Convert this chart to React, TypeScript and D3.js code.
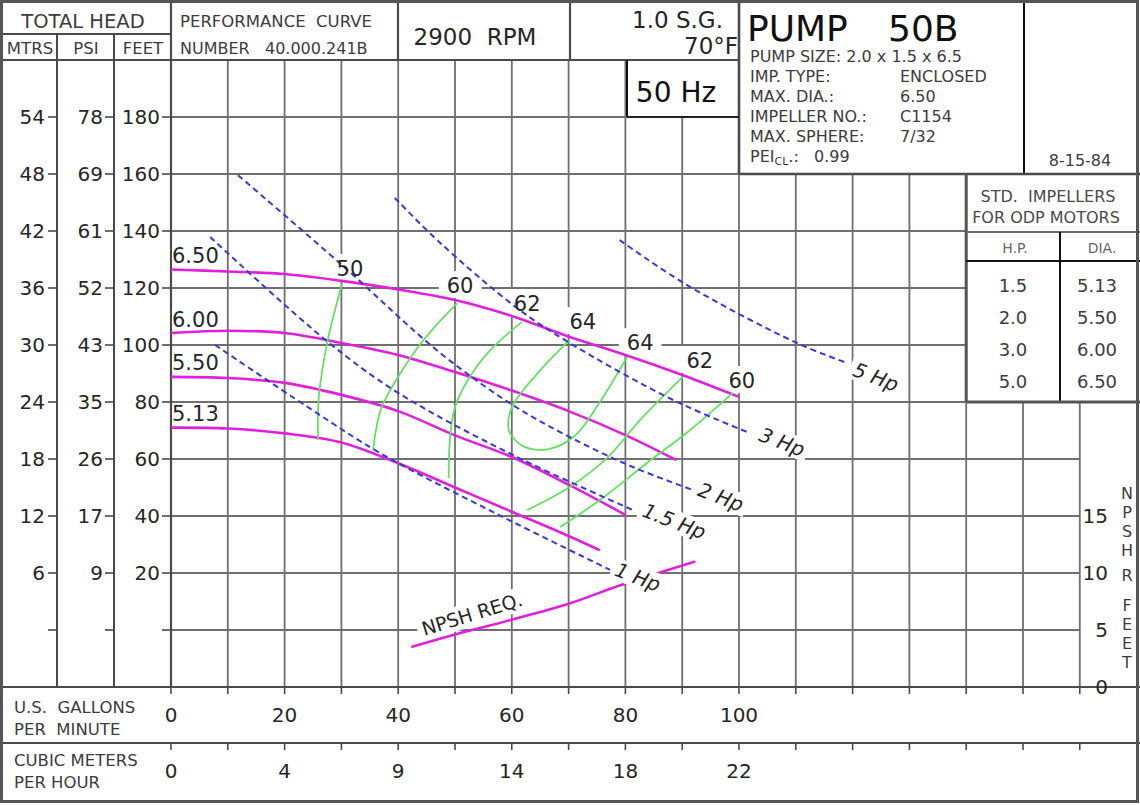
import React from 'react';
import * as d3 from 'd3';

const FONT = "'DejaVu Sans', Verdana, Arial, sans-serif";

// ---------- axis / tick data ----------
const feetTicks = [180, 160, 140, 120, 100, 80, 60, 40, 20, 0];
const mtrsLabels = ['54', '48', '42', '36', '30', '24', '18', '12', '6', ''];
const psiLabels = ['78', '69', '61', '52', '43', '35', '26', '17', '9', ''];
const feetLabels = ['180', '160', '140', '120', '100', '80', '60', '40', '20', ''];
const gpmTicks = [0, 20, 40, 60, 80, 100];
const cmhLabels = ['0', '4', '9', '14', '18', '22'];
const npshTicks = [0, 5, 10, 15];

// ---------- impeller head curves [gpm, feet] ----------
const dia650 = [[0, 126.5], [10, 125.8], [20, 124.9], [30, 122.5], [40, 119.5], [50, 115.8], [60, 110.2], [70, 103], [80, 96.5], [90, 89.5], [100, 81.8]];
const dia600 = [[0, 104.2], [10, 105], [20, 104.2], [30, 100.7], [40, 96.5], [50, 90.5], [60, 84], [70, 76.8], [80, 68.4], [89, 59.6]];
const dia550 = [[0, 88.8], [10, 88.4], [20, 86.7], [30, 82.5], [40, 76.8], [50, 68.3], [60, 60.7], [70, 51], [80, 40.4]];
const dia513 = [[0, 71], [10, 70.7], [20, 69], [30, 65.8], [40, 58.5], [50, 50], [60, 41.5], [70, 33], [75.5, 28]];
const impellerCurves = [dia650, dia600, dia550, dia513];
const impellerNames = ['6.50', '6.00', '5.50', '5.13'];

// ---------- efficiency contours [gpm, feet] ----------
const eff50 = [[30.1, 121.4], [27.6, 101.8], [26.2, 85.3], [25.9, 78.2], [25.9, 66.7]];
const eff60a = [[50.4, 114.7], [43.5, 99.3], [37.1, 78.2], [36.1, 70.2], [35.6, 63.2]];
const eff62a = [[61.8, 108.1], [56.2, 98.2], [52.6, 88.8], [50, 78.2], [49.1, 66.7], [48.9, 53.3]];
const eff64 = [[70.2, 101.8], [64.5, 90], [60, 78], [59.5, 70], [62, 64.5], [66.5, 63.5], [71, 68], [75.5, 80], [80.3, 95.8]];
const eff62b = [[90.1, 88.8], [82.6, 73.7], [76.8, 60.4], [70.2, 50.2], [62.7, 42.1]];
const eff60b = [[98.9, 83.2], [91.4, 70.2], [83.8, 58.6], [75.5, 45.6], [68.5, 36.1]];
const effCurves = [eff50, eff60a, eff62a, eff64, eff62b, eff60b];
const effLabels = ['50', '60', '62', '64', '64', '62', '60'];
const effLabelAt = [[31.5, 127], [50.9, 121], [62.7, 114.7], [72.5, 108.4], [82.6, 101], [93.1, 94.7], [100.5, 87.7]];

// ---------- horsepower lines [gpm, feet] ----------
const hp1 = [[7.75, 100], [24.1, 78.2], [36.8, 62.1], [57, 41.1], [77.3, 21.1]];
const hp15 = [[6.9, 137.9], [27.6, 101.1], [40, 83.2], [60.2, 61.4], [81.3, 42.1]];
const hp2 = [[11.8, 159.6], [29.9, 128.4], [47.4, 97.2], [60.2, 78.9], [70.2, 67.7], [81.3, 57.2], [91.9, 49.1]];
const hp3 = [[39.4, 151.6], [47.4, 135.8], [60.9, 113], [70.2, 100.7], [88.4, 80.7], [101.9, 69.1]];
const hp5 = [[79, 136.8], [90.8, 121.1], [110.2, 100.7], [119, 93.7]];
const hpCurves = [hp1, hp15, hp2, hp3, hp5];
const hpNames = ['1 Hp', '1.5 Hp', '2 Hp', '3 Hp', '5 Hp'];
const hpLabelAt = [[82.2, 18.6], [88.6, 38.2], [96.8, 46.7], [107.6, 66], [124.1, 88.8]];

// ---------- NPSH required [gpm, npsh feet] ----------
const npshReq = [[42.3, 3.5], [50, 4.6], [60, 5.9], [70, 7.3], [79, 8.9], [92.3, 11.0]];

// ---------- header / table text ----------
const infoKeys = ['IMP. TYPE:', 'MAX. DIA.:', 'IMPELLER NO.:', 'MAX. SPHERE:'];
const infoVals = ['ENCLOSED', '6.50', 'C1154', '7/32'];
const stdHp = ['1.5', '2.0', '3.0', '5.0'];
const stdDia = ['5.13', '5.50', '6.00', '6.50'];
const npshrLetters = ['N', 'P', 'S', 'H', 'R', 'F', 'E', 'E', 'T'];

const CW: Record<string, number> = {
  '0': .636, '1': .636, '2': .636, '3': .636, '4': .636, '5': .636, '6': .636, '7': .636, '8': .636, '9': .636,
  '.': .318, ' ': .318, H: .752, p: .635, N: .748, P: .603, S: .635, R: .695, E: .632, Q: .787,
};
const tw = (s: string, size: number) => {
  let w = 0;
  for (const c of s) w += CW[c] ?? 0.65;
  return w * size;
};

export default function App() {
  const x = d3.scaleLinear().domain([0, 170]).range([171, 1136.6]);
  const y = d3.scaleLinear().domain([-20, 200]).range([687, 60]);
  const yN = d3.scaleLinear().domain([0, 5]).range([687, 630]);
  const gen = d3.line<number[]>().x(d => x(d[0])).y(d => y(d[1])).curve(d3.curveCatmullRom.alpha(0.5));
  const genN = d3.line<number[]>().x(d => x(d[0])).y(d => yN(d[1])).curve(d3.curveCatmullRom.alpha(0.5));

  const GRID = '#6f6f6f';
  const LINE = '#4a4a4a';
  const TXT = '#262626';
  const HDR = '#3c3c3c';
  const MAG = '#e020dc';
  const BLUE = '#3a3ad2';
  const GREEN = '#64e064';

  const gridV = d3.range(10, 170, 10).map(g => {
    let top = 200;
    if (g === 90 || g === 100) top = 180;
    else if (g > 100 && g <= 140) top = 160;
    else if (g > 140) top = 80;
    return { g, top };
  });
  const gridH = feetTicks.map(f => {
    let end = 160;
    if (f === 180) end = 100;
    else if (f === 160) end = 170;
    else if (f >= 80) end = 140;
    return { f, end };
  });

  const EFF_SIZE = 21;
  const HP_SIZE = 20;
  const HP_ROT = 21;

  const effRects = effLabels.map((t, i) => {
    const w = tw(t, EFF_SIZE);
    return { t, cx: x(effLabelAt[i][0]), cy: y(effLabelAt[i][1]), w };
  });

  const impLabels = impellerNames.map((t, i) => ({ t, x0: x(0) + 1, cy: y(impellerCurves[i][0][1]) - 14, w: tw(t, EFF_SIZE) }));

  const hpL = hpNames.map((t, i) => ({ t, cx: x(hpLabelAt[i][0]), cy: y(hpLabelAt[i][1]), w: tw(t, HP_SIZE) }));

  const npshLbl = { cx: x(53), cy: yN(6.4), t: 'NPSH REQ.' };

  return (
    <svg width={1140} height={805} style={{ position: 'absolute', left: 0, top: 0, background: '#fff' }} fontFamily={FONT}>
      <rect x={0} y={0} width={1140} height={805} fill="#fff" />

      {/* grid */}
      {gridV.map(d => (
        <line key={'v' + d.g} x1={x(d.g)} x2={x(d.g)} y1={y(d.top)} y2={y(-20)} stroke={GRID} strokeWidth={1.8} />
      ))}
      {gridH.map(d => (
        <line key={'h' + d.f} x1={x(0)} x2={x(d.end)} y1={y(d.f)} y2={y(d.f)} stroke={GRID} strokeWidth={1.8} />
      ))}

      {/* frame / header lines */}
      <line x1={0} x2={x(0)} y1={34} y2={34} stroke={LINE} strokeWidth={2} />
      <line x1={0} x2={x(100)} y1={y(200)} y2={y(200)} stroke={LINE} strokeWidth={2.2} />
      <line x1={57} x2={57} y1={34} y2={y(-20)} stroke={LINE} strokeWidth={2} />
      <line x1={114} x2={114} y1={34} y2={y(-20)} stroke={LINE} strokeWidth={2} />
      <line x1={x(0)} x2={x(0)} y1={0} y2={y(-20)} stroke={LINE} strokeWidth={2.2} />
      <line x1={398} x2={398} y1={0} y2={y(200)} stroke={LINE} strokeWidth={2.2} />
      <line x1={570} x2={570} y1={0} y2={y(200)} stroke={LINE} strokeWidth={2.2} />
      <line x1={x(100)} x2={x(100)} y1={0} y2={y(160)} stroke={LINE} strokeWidth={2.6} />
      <line x1={1024} x2={1024} y1={0} y2={y(160)} stroke="#111" strokeWidth={2} />
      <line x1={x(100)} x2={1140} y1={y(160)} y2={y(160)} stroke={LINE} strokeWidth={2.4} />
      {/* 50 Hz box */}
      <line x1={627} x2={627} y1={y(200)} y2={y(180)} stroke="#111" strokeWidth={2} />
      <line x1={627} x2={x(100)} y1={y(180)} y2={y(180)} stroke="#222" strokeWidth={2} />

      {/* table */}
      <line x1={x(140)} x2={x(140)} y1={y(160)} y2={y(80)} stroke="#555" strokeWidth={3} />
      <line x1={x(140)} x2={1140} y1={232} y2={232} stroke="#666" strokeWidth={2.2} />
      <line x1={x(140)} x2={1140} y1={261} y2={261} stroke="#111" strokeWidth={2} />
      <line x1={1060} x2={1060} y1={232} y2={y(80)} stroke="#111" strokeWidth={2} />
      <line x1={x(140)} x2={1140} y1={y(80)} y2={y(80)} stroke="#555" strokeWidth={3} />

      {/* bottom rows */}
      <line x1={0} x2={1140} y1={y(-20)} y2={y(-20)} stroke={LINE} strokeWidth={2.2} />
      <line x1={0} x2={1140} y1={743} y2={743} stroke={LINE} strokeWidth={2.2} />
      {d3.range(0, 170, 10).map(g => (
        <g key={'bt' + g}>
          <line x1={x(g)} x2={x(g)} y1={y(-20)} y2={y(-20) + 7} stroke={LINE} strokeWidth={1.6} />
          <line x1={x(g)} x2={x(g)} y1={743} y2={750} stroke={LINE} strokeWidth={1.6} />
        </g>
      ))}

      {/* left axis ticks and labels */}
      {feetTicks.map((f, i) => (
        <g key={'lt' + f}>
          <line x1={48} x2={57} y1={y(f)} y2={y(f)} stroke={LINE} strokeWidth={1.6} />
          <line x1={105} x2={114} y1={y(f)} y2={y(f)} stroke={LINE} strokeWidth={1.6} />
          <line x1={162} x2={x(0)} y1={y(f)} y2={y(f)} stroke={LINE} strokeWidth={1.6} />
          <text x={45} y={y(f)} dy="0.36em" textAnchor="end" fontSize={20} fill={TXT}>{mtrsLabels[i]}</text>
          <text x={103} y={y(f)} dy="0.36em" textAnchor="end" fontSize={20} fill={TXT}>{psiLabels[i]}</text>
          <text x={160} y={y(f)} dy="0.36em" textAnchor="end" fontSize={20} fill={TXT}>{feetLabels[i]}</text>
        </g>
      ))}

      {/* label backgrounds (under curves) */}
      {effRects.map((d, i) => (
        <rect key={'er' + i} x={d.cx - d.w / 2 - 8} y={d.cy - 14} width={d.w + 16} height={27} fill="#fff" />
      ))}
      {impLabels.map((d, i) => (
        <rect key={'ir' + i} x={d.x0} y={d.cy - 10} width={d.w + 4} height={20} fill="#fff" />
      ))}
      <g transform={`translate(${npshLbl.cx},${npshLbl.cy}) rotate(-17)`}>
        <rect x={-tw(npshLbl.t, 19) / 2 - 5} y={-12} width={tw(npshLbl.t, 19) + 10} height={24} fill="#fff" />
      </g>

      {/* impeller curves */}
      {impellerCurves.map((c, i) => (
        <path key={'imp' + i} d={gen(c) || ''} fill="none" stroke={MAG} strokeWidth={2.6} />
      ))}
      {/* efficiency */}
      {effCurves.map((c, i) => (
        <path key={'eff' + i} d={gen(c) || ''} fill="none" stroke={GREEN} strokeWidth={1.8} />
      ))}
      {/* hp lines */}
      {hpCurves.map((c, i) => (
        <path key={'hp' + i} d={gen(c) || ''} fill="none" stroke={BLUE} strokeWidth={2} strokeDasharray="6 4" />
      ))}
      {/* NPSH req */}
      <path d={genN(npshReq) || ''} fill="none" stroke={MAG} strokeWidth={2.6} />

      {/* label texts */}
      {effRects.map((d, i) => (
        <text key={'et' + i} x={d.cx} y={d.cy} dy="0.36em" textAnchor="middle" fontSize={EFF_SIZE} fill={TXT}>{d.t}</text>
      ))}
      {impLabels.map((d, i) => (
        <text key={'it' + i} x={d.x0} y={d.cy} dy="0.36em" fontSize={EFF_SIZE} fill={TXT}>{d.t}</text>
      ))}
      {hpL.map((d, i) => (
        <g key={'hl' + i} transform={`translate(${d.cx},${d.cy}) rotate(${HP_ROT})`}>
          <rect x={-d.w / 2 - 4} y={-11} width={d.w + 8} height={22} fill="#fff" />
          <text x={0} y={0} dy="0.36em" textAnchor="middle" fontSize={HP_SIZE} fontStyle="italic" fill={TXT}>{d.t}</text>
        </g>
      ))}
      <g transform={`translate(${npshLbl.cx},${npshLbl.cy}) rotate(-17)`}>
        <text x={0} y={0} dy="0.36em" textAnchor="middle" fontSize={19} fill={TXT}>{npshLbl.t}</text>
      </g>

      {/* bottom axis labels */}
      {gpmTicks.map((g, i) => (
        <g key={'gl' + g}>
          <text x={x(g)} y={715} dy="0.36em" textAnchor="middle" fontSize={20} fill={TXT}>{String(g)}</text>
          <text x={x(g)} y={771} dy="0.36em" textAnchor="middle" fontSize={20} fill={TXT}>{cmhLabels[i]}</text>
        </g>
      ))}
      <text x={14} y={713} fontSize={16.5} fill={HDR} style={{ whiteSpace: 'pre' }}>U.S.  GALLONS</text>
      <text x={14} y={735} fontSize={16.5} fill={HDR} style={{ whiteSpace: 'pre' }}>PER  MINUTE</text>
      <text x={14} y={766} fontSize={16.5} fill={HDR}>CUBIC METERS</text>
      <text x={14} y={788} fontSize={16.5} fill={HDR}>PER HOUR</text>

      {/* NPSH axis */}
      {npshTicks.map(n => (
        <text key={'n' + n} x={1108} y={yN(n)} dy="0.36em" textAnchor="end" fontSize={20} fill={TXT}>{String(n)}</text>
      ))}
      {npshrLetters.map((c, i) => (
        <text key={'nl' + i} x={1127} y={[493, 512, 531, 550, 575, 605, 624, 643, 662][i]} dy="0.36em" textAnchor="middle" fontSize={16} fill={HDR}>{c}</text>
      ))}

      {/* header text */}
      <text x={83} y={28} textAnchor="middle" fontSize={19.5} fill={HDR}>TOTAL HEAD</text>
      <text x={30} y={54} textAnchor="middle" fontSize={16.5} fill={HDR}>MTRS</text>
      <text x={86} y={54} textAnchor="middle" fontSize={16.5} fill={HDR}>PSI</text>
      <text x={143} y={54} textAnchor="middle" fontSize={16.5} fill={HDR}>FEET</text>
      <text x={180} y={27} fontSize={16.5} fill={HDR} style={{ whiteSpace: 'pre' }}>PERFORMANCE  CURVE</text>
      <text x={180} y={54} fontSize={16} fill={HDR} style={{ whiteSpace: 'pre' }}>NUMBER   40.000.241B</text>
      <text x={475} y={45} textAnchor="middle" fontSize={23} fill={TXT} style={{ whiteSpace: 'pre' }}>2900  RPM</text>
      <text x={723} y={28} textAnchor="end" fontSize={23} fill={TXT}>1.0 S.G.</text>
      <text x={738} y={54} textAnchor="end" fontSize={23} fill={TXT}>70°F</text>
      <text x={676} y={102} textAnchor="middle" fontSize={28} fill="#111">50 Hz</text>
      <text x={747} y={41} fontSize={36} fill="#111">PUMP</text>
      <text x={888} y={41} fontSize={36} fill="#111">50B</text>
      <text x={750} y={62} fontSize={16} fill={HDR}>PUMP SIZE: 2.0 x 1.5 x 6.5</text>
      {infoKeys.map((k, i) => (
        <g key={'ik' + i}>
          <text x={750} y={82 + i * 20} fontSize={16} fill={HDR}>{k}</text>
          <text x={900} y={82 + i * 20} fontSize={16} fill={HDR}>{infoVals[i]}</text>
        </g>
      ))}
      <text x={750} y={162} fontSize={16} fill={HDR} style={{ whiteSpace: 'pre' }}>
        PEI<tspan fontSize={11} dy={3}>CL</tspan><tspan dy={-3}>.:   0.99</tspan>
      </text>
      <text x={1080} y={166} textAnchor="middle" fontSize={16} fill={HDR}>8-15-84</text>

      {/* table text */}
      <text x={1048} y={202} textAnchor="middle" fontSize={16} fill="#4a4a4a" style={{ whiteSpace: 'pre' }}>STD.  IMPELLERS</text>
      <text x={1046} y={223} textAnchor="middle" fontSize={16} fill="#4a4a4a">FOR ODP MOTORS</text>
      <text x={1015} y={253} textAnchor="middle" fontSize={14} fill="#666">H.P.</text>
      <text x={1102} y={253} textAnchor="middle" fontSize={14} fill="#666">DIA.</text>
      {stdHp.map((h, i) => (
        <g key={'st' + i}>
          <text x={1013} y={292 + i * 32} textAnchor="middle" fontSize={18} fill={HDR}>{h}</text>
          <text x={1097} y={292 + i * 32} textAnchor="middle" fontSize={18} fill={HDR}>{stdDia[i]}</text>
        </g>
      ))}

      {/* outer border */}
      <rect x={1.5} y={1.5} width={1136} height={800} fill="none" stroke="#555" strokeWidth={3} />
    </svg>
  );
}
